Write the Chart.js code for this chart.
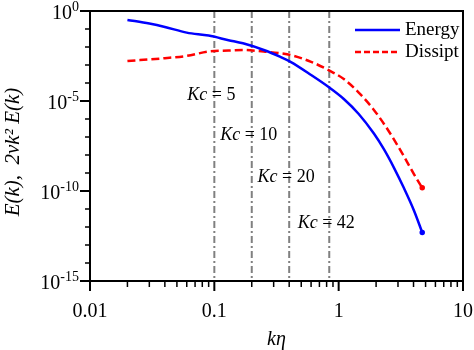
<!DOCTYPE html>
<html>
<head>
<meta charset="utf-8">
<script src="https://cdn.jsdelivr.net/npm/chart.js@4.4.0/dist/chart.umd.min.js"></script>
<style>
body { margin: 0; background: #fff; }
canvas { display: block; }
</style>
</head>
<body>
<canvas id="chart" width="474" height="350"></canvas>
<script>
// k*eta and spectra
var kEnergy = [0.02, 0.03, 0.04, 0.06, 0.09, 0.13, 0.17, 0.25, 0.34, 0.41, 0.6, 0.83, 1.1, 1.45, 1.92, 2.31, 2.78, 3.34, 4.03, 4.7];
var energy  = [3.2e-1, 2.0e-1, 1.3e-1, 6.3e-2, 4.3e-2, 2.4e-2, 1.6e-2, 6.8e-3, 2.8e-3, 1.5e-3, 2.8e-4, 6.0e-5, 1.3e-5, 1.9e-6, 1.55e-7, 2.1e-8, 2.0e-9, 1.5e-10, 8.3e-12, 5.0e-13];

var kDissip = [0.02, 0.04, 0.06, 0.09, 0.13, 0.17, 0.25, 0.34, 0.41, 0.6, 0.83, 1.1, 1.45, 1.92, 2.53, 3.34, 4.03, 4.7];
var dissip  = [1.66e-3, 2.4e-3, 3.2e-3, 5.6e-3, 6.3e-3, 6.8e-3, 5.6e-3, 4.5e-3, 3.6e-3, 1.5e-3, 5.2e-4, 1.66e-4, 2.95e-5, 3.2e-6, 2.1e-7, 8.7e-9, 8.7e-10, 1.5e-10];

// cut-off lines (Kc * eta) and where their labels sit
var kcNames = ['5', '10', '20', '42'];
var kcPos   = [0.1, 0.2, 0.4, 0.84];
var kcTextY = [2.1e-5, 1.3e-7, 6e-10, 1.7e-12];

var xMajor = [0.01, 0.1, 1, 10];
var xTickLabels = ['0.01', '0.1', '1', '10'];
var yMajor = [1, 1e-5, 1e-10, 1e-15];

var seriesNames = ['Energy', 'Dissipt'];
var seriesColors = ['#0000ff', '#ff0000'];

var serif = '"Liberation Serif", "Times New Roman", serif';

function toXY(xs, ys) {
  return xs.map(function(x, i) { return {x: x, y: ys[i]}; });
}
function lastDot(arr) {
  return arr.map(function(v, i) { return i === arr.length - 1 ? 1.5 : 0; });
}
function isMajor(v, list) {
  return list.some(function(m) { return Math.abs(Math.log10(v) - Math.log10(m)) < 1e-6; });
}

var decor = {
  id: 'decor',
  beforeDatasetsDraw: function(chart) {
    var ctx = chart.ctx, a = chart.chartArea, xs = chart.scales.x;
    ctx.save();
    ctx.strokeStyle = '#808080';
    ctx.lineWidth = 2;
    ctx.setLineDash([7, 3, 2, 3]);
    kcPos.forEach(function(k) {
      var px = xs.getPixelForValue(k);
      ctx.beginPath();
      ctx.moveTo(px, a.top);
      ctx.lineTo(px, a.bottom);
      ctx.stroke();
    });
    ctx.restore();
  },
  afterDraw: function(chart) {
    var ctx = chart.ctx, a = chart.chartArea, xs = chart.scales.x, ys = chart.scales.y;
    ctx.save();
    ctx.setLineDash([]);
    ctx.strokeStyle = '#000';
    ctx.fillStyle = '#000';

    // frame
    ctx.lineWidth = 2;
    ctx.strokeRect(a.left, a.top, a.right - a.left, a.bottom - a.top);

    // x ticks
    xs.ticks.forEach(function(t) {
      var px = xs.getPixelForValue(t.value);
      var major = isMajor(t.value, xMajor);
      ctx.lineWidth = major ? 2 : 1.5;
      ctx.beginPath();
      ctx.moveTo(px, a.bottom);
      ctx.lineTo(px, a.bottom + (major ? 10 : 6));
      ctx.stroke();
    });

    // y ticks and labels
    ys.ticks.forEach(function(t) {
      var py = ys.getPixelForValue(t.value);
      var major = isMajor(t.value, yMajor);
      ctx.lineWidth = major ? 2 : 1.5;
      ctx.beginPath();
      ctx.moveTo(a.left, py);
      ctx.lineTo(a.left - (major ? 10 : 5), py);
      ctx.stroke();
      if (major) {
        var ex = String(Math.round(Math.log10(t.value)));
        ctx.font = '20px ' + serif;
        var wb = ctx.measureText('10').width;
        ctx.font = '14px ' + serif;
        var we = ctx.measureText(ex).width;
        var x0 = a.left - 11 - wb - we;
        ctx.textAlign = 'left';
        ctx.textBaseline = 'alphabetic';
        ctx.font = '20px ' + serif;
        ctx.fillText('10', x0, py + 8);
        ctx.font = '14px ' + serif;
        ctx.fillText(ex, x0 + wb, py);
      }
    });

    // axis titles
    ctx.font = 'italic 20px ' + serif;
    ctx.textAlign = 'center';
    ctx.textBaseline = 'alphabetic';
    ctx.fillText('k\u03b7', (a.left + a.right) / 2, a.bottom + 64);

    ctx.save();
    ctx.translate(19, (a.top + a.bottom) / 2 + 6);
    ctx.rotate(-Math.PI / 2);
    ctx.font = 'italic 21px ' + serif;
    ctx.fillText('E(k),  2\u03bdk\u00b2 E(k)', 0, 0);
    ctx.restore();

    // Kc labels
    kcPos.forEach(function(k, i) {
      var px = xs.getPixelForValue(k);
      var py = ys.getPixelForValue(kcTextY[i]);
      var rest = ' = ' + kcNames[i];
      ctx.font = 'italic 18px ' + serif;
      var w1 = ctx.measureText('Kc').width;
      ctx.font = '18px ' + serif;
      var w2 = ctx.measureText(rest).width;
      var x0 = px - (w1 + w2) / 2 - 3;
      ctx.textAlign = 'left';
      ctx.textBaseline = 'middle';
      ctx.font = 'italic 18px ' + serif;
      ctx.fillText('Kc', x0, py);
      ctx.font = '18px ' + serif;
      ctx.fillText(rest, x0 + w1, py);
    });

    // legend
    ctx.font = '19px ' + serif;
    ctx.textBaseline = 'middle';
    ctx.textAlign = 'left';
    seriesNames.forEach(function(name, i) {
      var ly = a.top + 19 + i * 22;
      ctx.strokeStyle = seriesColors[i];
      ctx.lineWidth = 2.5;
      ctx.setLineDash(i === 1 ? [6, 3] : []);
      ctx.beginPath();
      ctx.moveTo(a.right - 108, ly);
      ctx.lineTo(a.right - 63, ly);
      ctx.stroke();
      ctx.fillStyle = '#000';
      ctx.fillText(name, a.right - 58, ly);
    });
    ctx.restore();
  }
};

new Chart(document.getElementById('chart'), {
  type: 'line',
  data: {
    datasets: [{
      label: seriesNames[0],
      data: toXY(kEnergy, energy),
      borderColor: seriesColors[0],
      backgroundColor: seriesColors[0],
      borderWidth: 2.5,
      pointRadius: lastDot(energy),
      cubicInterpolationMode: 'monotone',
      fill: false
    }, {
      label: seriesNames[1],
      data: toXY(kDissip, dissip),
      borderColor: seriesColors[1],
      backgroundColor: seriesColors[1],
      borderWidth: 2.5,
      borderDash: [8, 4],
      pointRadius: lastDot(dissip),
      cubicInterpolationMode: 'monotone',
      fill: false
    }]
  },
  options: {
    responsive: false,
    animation: false,
    layout: { padding: { left: 0, right: 11, top: 11, bottom: 0 } },
    plugins: { legend: { display: false }, tooltip: { enabled: false } },
    scales: {
      x: {
        type: 'logarithmic',
        min: 0.01,
        max: 10,
        grid: { display: false, drawTicks: false },
        border: { display: false },
        afterBuildTicks: function(scale) {
          var t = [];
          for (var d = -2; d <= 0; d++) {
            for (var m = 1; m <= 9; m++) {
              t.push({ value: parseFloat((m * Math.pow(10, d)).toPrecision(3)) });
            }
          }
          t.push({ value: 10 });
          scale.ticks = t;
        },
        afterFit: function(scale) {
          scale.height = 69;
          scale.paddingLeft = 0;
          scale.paddingRight = 0;
        },
        ticks: {
          autoSkip: false,
          maxRotation: 0,
          padding: 19,
          color: '#000',
          font: { family: serif, size: 20 },
          callback: function(value) {
            for (var i = 0; i < xMajor.length; i++) {
              if (Math.abs(Math.log10(value) - Math.log10(xMajor[i])) < 1e-6) return xTickLabels[i];
            }
            return '';
          }
        }
      },
      y: {
        type: 'logarithmic',
        min: 1e-15,
        max: 1,
        grid: { display: false, drawTicks: false },
        border: { display: false },
        afterBuildTicks: function(scale) {
          var t = [];
          for (var e = 0; e >= -15; e--) t.push({ value: Math.pow(10, e) });
          scale.ticks = t;
        },
        afterFit: function(scale) {
          scale.width = 90;
          scale.paddingTop = 0;
          scale.paddingBottom = 0;
        },
        ticks: { display: false }
      }
    }
  },
  plugins: [decor]
});
</script>
</body>
</html>
